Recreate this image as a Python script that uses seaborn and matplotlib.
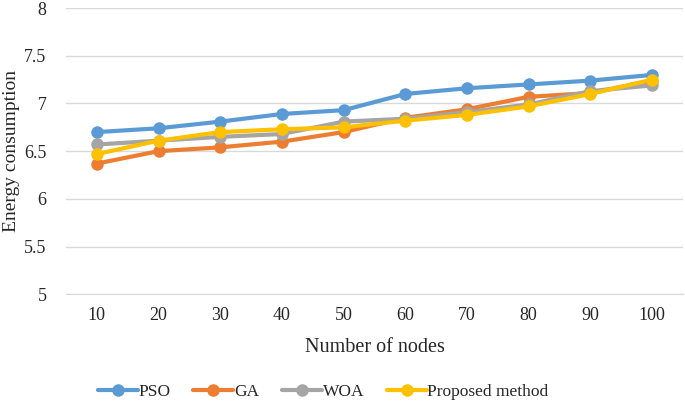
import pandas as pd
import seaborn as sns
import matplotlib.pyplot as plt

nodes = [10, 20, 30, 40, 50, 60, 70, 80, 90, 100]
pso = [6.70, 6.74, 6.81, 6.89, 6.93, 7.10, 7.16, 7.20, 7.24, 7.30]
ga = [6.37, 6.50, 6.54, 6.60, 6.70, 6.85, 6.94, 7.07, 7.11, 7.24]
woa = [6.57, 6.61, 6.65, 6.68, 6.81, 6.84, 6.91, 6.99, 7.13, 7.19]
proposed = [6.47, 6.61, 6.70, 6.73, 6.75, 6.82, 6.88, 6.97, 7.10, 7.25]

series = {"PSO": pso, "GA": ga, "WOA": woa, "Proposed method": proposed}
colors = ["#5B9BD5", "#ED7D31", "#A5A5A5", "#FFC000"]

df = pd.DataFrame([
    {"nodes": str(n), "method": m, "energy": v}
    for m, vals in series.items() for n, v in zip(nodes, vals)
])

sns.set_style("white")
plt.rcParams['font.family'] = ['Liberation Serif', 'DejaVu Serif']

fig, ax = plt.subplots(figsize=(6.85, 4.08), dpi=100)
sns.lineplot(data=df, x="nodes", y="energy", hue="method", palette=colors,
             marker="o", markersize=9, markeredgewidth=0, linewidth=3,
             sort=False, ax=ax)

ax.set_ylim(5, 8)
ax.set_yticks([5, 5.5, 6, 6.5, 7, 7.5, 8])
ax.set_yticklabels(["5", "5.5", "6", "6.5", "7", "7.5", "8"])
ax.set_xlim(-0.5, 9.5)
ax.yaxis.grid(True, color="#D9D9D9", linewidth=1)
ax.set_axisbelow(True)
for s in ["top", "right", "left"]:
    ax.spines[s].set_visible(False)
ax.spines["bottom"].set_color("#D9D9D9")
ax.tick_params(axis="both", labelsize=13, length=0)
ax.tick_params(axis="y", pad=14)
ax.tick_params(axis="x", pad=9)
ax.set_xlabel("Number of nodes", fontsize=14.5, labelpad=10)
ax.set_ylabel("Energy consumption", fontsize=14, labelpad=3)

ax.legend(loc="center", bbox_to_anchor=(0.417, -0.343), ncol=4,
          frameon=False, fontsize=12.5, handlelength=2.3, columnspacing=1.3,
          handletextpad=0.05)

fig.subplots_adjust(left=0.0964, right=0.997, top=0.98, bottom=0.279)
fig.savefig("out.png", dpi=100)
